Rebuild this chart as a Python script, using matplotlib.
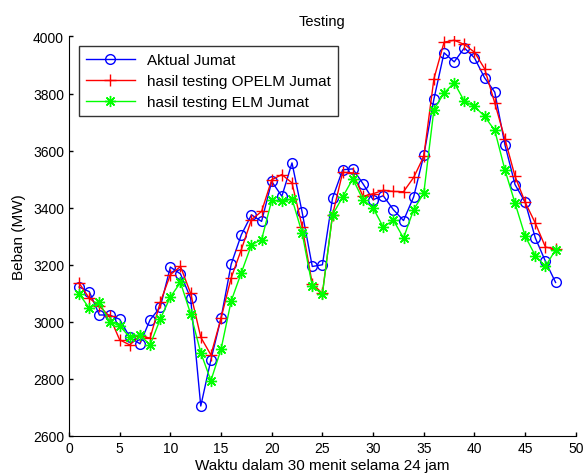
#########################################################
#####   Librerias y datos  #####
#########################################################
import numpy as np
import matplotlib.pyplot as plt

plt.rcParams['font.family'] = ['Liberation Sans', 'DejaVu Sans']

# titik waktu (setiap 30 menit)
waktu = list(range(1, 49))

aktual = [3122, 3106, 3024, 3024, 3009, 2946, 2923, 3007, 3051, 3192,
          3168, 3083, 2705, 2867, 3013, 3202, 3305, 3375, 3352, 3492,
          3440, 3557, 3384, 3194, 3200, 3434, 3533, 3536, 3484, 3428,
          3442, 3393, 3355, 3438, 3584, 3781, 3943, 3911, 3960, 3925,
          3855, 3805, 3621, 3481, 3419, 3294, 3212, 3138]

opelm = [3136, 3083, 3055, 3019, 2937, 2919, 2951, 2943, 3068, 3165,
         3194, 3100, 2946, 2884, 3013, 3154, 3253, 3358, 3387, 3498,
         3516, 3487, 3334, 3133, 3100, 3375, 3524, 3522, 3440, 3449,
         3461, 3457, 3456, 3506, 3580, 3852, 3980, 3987, 3972, 3945,
         3887, 3767, 3641, 3510, 3419, 3346, 3262, 3255]

elm = [3098, 3048, 3068, 3001, 2986, 2946, 2954, 2919, 3009, 3087,
       3138, 3028, 2892, 2794, 2904, 3073, 3172, 3270, 3288, 3426,
       3422, 3431, 3311, 3124, 3098, 3375, 3438, 3501, 3428, 3399,
       3332, 3356, 3294, 3393, 3451, 3744, 3802, 3838, 3773, 3755,
       3720, 3671, 3533, 3416, 3300, 3232, 3194, 3253]

#########################################################
#####   Grafica  #####
#########################################################
fig = plt.figure(figsize=(5.86, 4.77), dpi=100)
ax = fig.add_axes([0.1177, 0.0839, 0.865, 0.8375])

ax.plot(waktu, aktual, color="#0000FF", linewidth=1, marker="o", markersize=7,
        markerfacecolor="none", markeredgewidth=1, label="Aktual Jumat")
ax.plot(waktu, opelm, color="#FF0000", linewidth=1, marker="+", markersize=9,
        markeredgewidth=1, label="hasil testing OPELM Jumat")
ax.plot(waktu, elm, color="#00FF00", linewidth=1, marker=(8, 2, 0), markersize=8,
        markeredgewidth=1, label="hasil testing ELM Jumat")

ax.set_xlim(0, 50)
ax.set_ylim(2600, 4000)
ax.set_xticks(np.arange(0, 51, 5))
ax.set_yticks(np.arange(2600, 4001, 200))
ax.tick_params(direction="in", length=3, labelsize=10, width=1)
ax.spines["top"].set_visible(False)
ax.spines["right"].set_visible(False)

ax.set_title("Testing", fontsize=10.5, pad=8)
ax.set_xlabel("Waktu dalam 30 menit selama 24 jam", fontsize=11, labelpad=2)
ax.set_ylabel("Beban (MW)", fontsize=11, labelpad=5)

leg = ax.legend(loc="upper left", bbox_to_anchor=(0.02, 0.975), borderaxespad=0,
                fancybox=False, edgecolor="black", fontsize=11,
                handlelength=3.2, labelspacing=0.45, borderpad=0.45)
leg.get_frame().set_linewidth(1)

plt.savefig("out.png", dpi=100)
